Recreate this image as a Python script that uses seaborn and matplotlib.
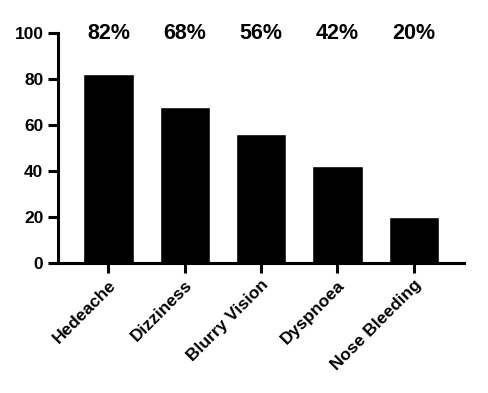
import matplotlib
matplotlib.use("Agg")
import matplotlib.pyplot as plt
import seaborn as sns
import pandas as pd

categories = ["Hedeache", "Dizziness", "Blurry Vision", "Dyspnoea", "Nose Bleeding"]
values = [82, 68, 56, 42, 20]
pct_labels = ["82%", "68%", "56%", "42%", "20%"]
yticks = [0, 20, 40, 60, 80, 100]

sns.set_style("ticks")
plt.rcParams['font.family'] = ['Liberation Sans', 'DejaVu Sans']
plt.rcParams['font.weight'] = 'bold'
plt.rcParams['text.color'] = 'black'
plt.rcParams['xtick.color'] = 'black'
plt.rcParams['ytick.color'] = 'black'
plt.rcParams['axes.labelcolor'] = 'black'

df = pd.DataFrame({"cat": categories, "val": values})

fig = plt.figure(figsize=(4.88, 3.93), dpi=100)
ax = fig.add_axes([0.119, 0.331, 0.832, 0.585])
sns.barplot(data=df, x="cat", y="val", color="black", saturation=1, width=0.66, ax=ax)

ax.set_ylim(0, 100)
ax.set_xlim(-0.66, 4.66)
ax.set_yticks(yticks)
ax.set_xlabel("")
ax.set_ylabel("")
for s in ["top", "right"]:
    ax.spines[s].set_visible(False)
for s in ["left", "bottom"]:
    ax.spines[s].set_linewidth(2.2)
    ax.spines[s].set_color("black")
ax.tick_params(axis="both", width=2.2, length=7, colors="black", labelsize=12.5)
ax.set_yticklabels([str(t) for t in yticks], fontweight="bold", color="black")
ax.set_xticks(range(len(categories)))
ax.set_xticklabels(categories, rotation=45, ha="right", rotation_mode="anchor",
                   fontweight="bold", fontsize=12.5, color="black")

for i, lab in enumerate(pct_labels):
    ax.text(i, 100, lab, ha="center", va="center", fontsize=15.5, fontweight="bold",
            color="black", clip_on=False)

fig.savefig("out.png", dpi=100)
